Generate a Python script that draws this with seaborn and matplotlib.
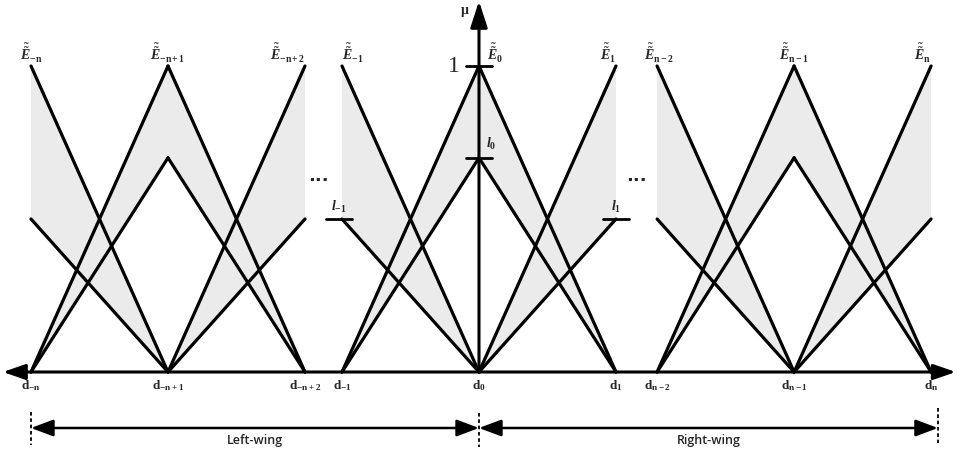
import numpy as np
import pandas as pd
import matplotlib
matplotlib.use("Agg")
import matplotlib.pyplot as plt
import seaborn as sns

# ------------------------------------------------------------
# Data: interval type-2 triangular fuzzy numbers E_i on d_i
# ------------------------------------------------------------
d_pos = [0.0, 1.0, 2.0, 2.27, 3.27, 4.27, 4.57, 5.57, 6.57]
d_labels = [r"$\mathrm{d}_{\mathrm{-n}}$", r"$\mathrm{d}_{\mathrm{-n+1}}$", r"$\mathrm{d}_{\mathrm{-n+2}}$",
            r"$\mathrm{d}_{\mathrm{-1}}$", r"$\mathrm{d}_{\mathrm{0}}$", r"$\mathrm{d}_{\mathrm{1}}$",
            r"$\mathrm{d}_{\mathrm{n-2}}$", r"$\mathrm{d}_{\mathrm{n-1}}$", r"$\mathrm{d}_{\mathrm{n}}$"]
e_labels = [r"$\tilde{\tilde{E}}_{\mathrm{-n}}$", r"$\tilde{\tilde{E}}_{\mathrm{-n+1}}$",
            r"$\tilde{\tilde{E}}_{\mathrm{-n+2}}$", r"$\tilde{\tilde{E}}_{\mathrm{-1}}$",
            r"$\tilde{\tilde{E}}_{\mathrm{0}}$", r"$\tilde{\tilde{E}}_{\mathrm{1}}$",
            r"$\tilde{\tilde{E}}_{\mathrm{n-2}}$", r"$\tilde{\tilde{E}}_{\mathrm{n-1}}$",
            r"$\tilde{\tilde{E}}_{\mathrm{n}}$"]
upper_h = [1.0, 1.0, 1.0, 1.0, 1.0, 1.0, 1.0, 1.0, 1.0]
lower_h = [0.50, 0.70, 0.50, 0.50, 0.70, 0.50, 0.50, 0.70, 0.50]
sides = ["right", "both", "left"] * 3

# ------------------------------------------------------------
# Style
# ------------------------------------------------------------
sns.set_theme(style="white")
plt.rcParams["mathtext.fontset"] = "custom"
plt.rcParams["mathtext.rm"] = "Liberation Serif:bold"
plt.rcParams["mathtext.it"] = "Liberation Serif:italic:bold"
plt.rcParams["mathtext.bf"] = "Liberation Serif:bold"
plt.rcParams["font.family"] = ["Liberation Serif", "DejaVu Sans"]

fill_col = "#ebebeb"
lw = 2.3

fig = plt.figure(figsize=(9.58, 4.63), dpi=100)
ax = fig.add_axes([0, 0, 1, 1])
ax.set_xlim(-31 / 137, (958 - 31) / 137)
ax.set_ylim(-91 / 306, 372 / 306)
ax.axis("off")

# segments and shaded footprints
rows = []
for i, (d, u, l, s) in enumerate(zip(d_pos, upper_h, lower_h, sides)):
    prv = d_pos[i - 1] if s in ("left", "both") else None
    nxt = d_pos[i + 1] if s in ("right", "both") else None
    if prv is not None:
        rows += [(f"{i}ul", prv, 0), (f"{i}ul", d, u), (f"{i}ll", prv, 0), (f"{i}ll", d, l)]
    if nxt is not None:
        rows += [(f"{i}ur", d, u), (f"{i}ur", nxt, 0), (f"{i}lr", d, l), (f"{i}lr", nxt, 0)]
    if s == "right":
        poly = [(d, u), (nxt, 0), (d, l)]
    elif s == "left":
        poly = [(prv, 0), (d, u), (d, l)]
    else:
        poly = [(prv, 0), (d, u), (nxt, 0), (d, l)]
    px, py = zip(*poly)
    ax.fill(px, py, color=fill_col, lw=0, zorder=1)

seg = pd.DataFrame(rows, columns=["seg", "x", "y"])
sns.lineplot(data=seg, x="x", y="y", units="seg", estimator=None, sort=False,
             color="black", lw=lw, ax=ax, legend=False, zorder=3)

# horizontal axis (double arrow) and mu axis
x0 = d_pos[4]
ax.annotate("", xy=(-0.205, 0), xytext=(6.75, 0),
            arrowprops=dict(arrowstyle="<|-|>,head_length=0.75,head_width=0.26",
                            lw=2.2, color="black", mutation_scale=18,
                            shrinkA=0, shrinkB=0), zorder=4)
ax.annotate("", xy=(x0, 1.212), xytext=(x0, 0),
            arrowprops=dict(arrowstyle="-|>,head_length=0.8,head_width=0.26",
                            lw=2.2, color="black", mutation_scale=20,
                            shrinkA=0, shrinkB=0), zorder=4)
ax.text(x0 - 0.1, 1.175, r"$\mathrm{\mu}$", fontsize=10, ha="center", va="center")

# ticks on mu axis
tick_half = 0.095
ax.plot([x0 - tick_half, x0 + tick_half], [1, 1], color="black", lw=2, zorder=4)
ax.plot([x0 - tick_half, x0 + tick_half], [lower_h[4]] * 2, color="black", lw=2, zorder=4)
ax.text(x0 - 0.18, 1.0, "1", fontsize=17, ha="center", va="center")
ax.text(x0 + 0.09, lower_h[4] + 0.045, r"$l_0$", fontsize=10, ha="center", va="center")

# ticks l_-1 and l_1
for k, lab in ((3, r"$l_{-1}$"), (5, r"$l_1$")):
    xs = d_pos[k] + (-0.02 if k == 3 else 0.0)
    ax.plot([xs - tick_half, xs + tick_half], [lower_h[k]] * 2, color="black", lw=2, zorder=4)
    ax.text(xs, lower_h[k] + 0.04, lab, fontsize=10, ha="center", va="center")

# dots between groups
for xd in (2.095, 4.42):
    ax.text(xd, 0.64, "...", fontsize=13, fontweight="bold", ha="center", va="center",
            family="DejaVu Sans")

# fuzzy number labels
e_ha = ["center", "center", "right", "left", "left", "right", "center", "center", "right"]
e_dx = [0, 0, 0, 0, 0.06, 0, 0.01, 0, 0]
for d, lab, ha, dx in zip(d_pos, e_labels, e_ha, e_dx):
    ax.text(d + dx, 1.04, lab, fontsize=10, ha=ha, va="center")

# d labels under axis
for d, lab in zip(d_pos, d_labels):
    ax.text(d, -0.045, lab, fontsize=9.5, ha="center", va="center")

# wings
y_arr = -0.183
for xa, xb, lab in ((d_pos[0], x0, "Left-wing"), (x0, 6.62, "Right-wing")):
    ax.annotate("", xy=(xa, y_arr), xytext=(xb, y_arr),
                arrowprops=dict(arrowstyle="<|-|>,head_length=0.8,head_width=0.3",
                                lw=1.8, color="black", mutation_scale=17,
                                shrinkA=0, shrinkB=0))
    ax.text((xa + xb) / 2, y_arr - 0.04, lab, fontsize=9, ha="center", va="center",
            family="Open Sans", fontweight="semibold")
for xv, y0, y1 in ((d_pos[0], -0.131, -0.239), (x0, -0.134, -0.245), (6.62, -0.118, -0.232)):
    ax.plot([xv, xv], [y0, y1], color="black", lw=1.3, ls=(0, (2, 1.5)))

fig.savefig("out.png", dpi=100)
